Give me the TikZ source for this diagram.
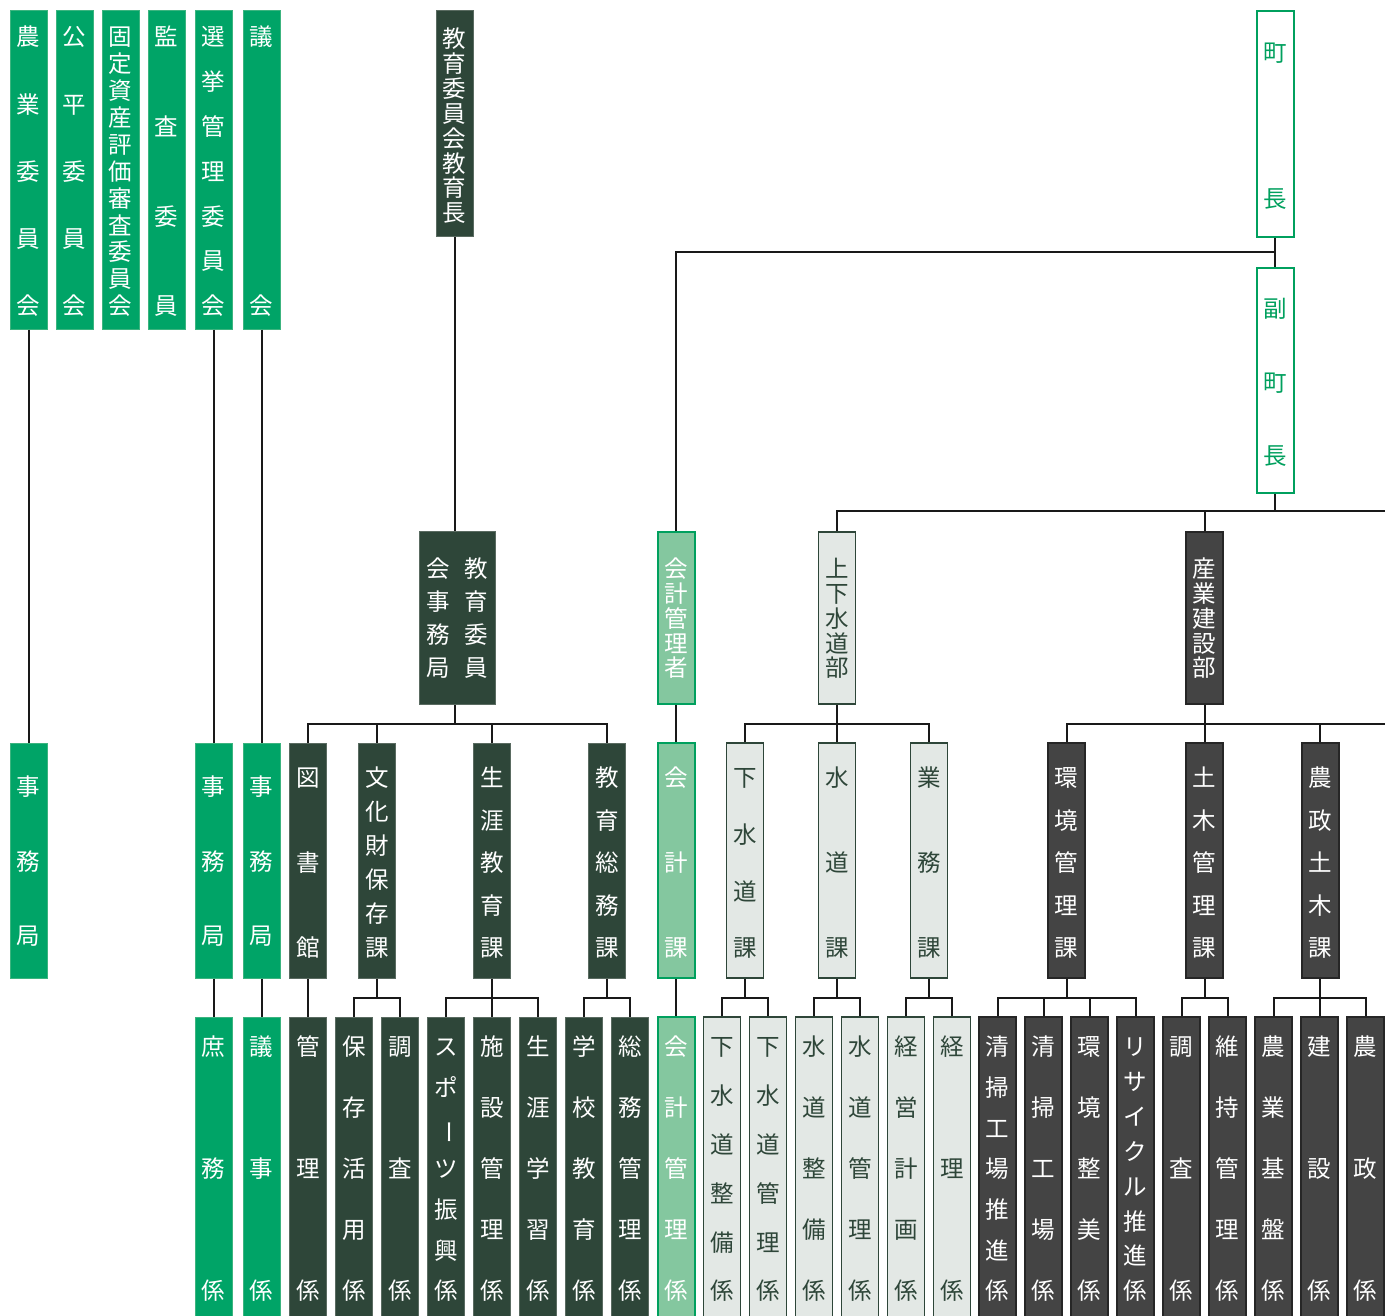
\documentclass[tikz,border=0pt]{standalone}
\usepackage{fontspec}
\usepackage{graphicx}
\newfontfamily\jpf{Noto Sans CJK JP}
\usetikzlibrary{calc}
\definecolor{cG}{HTML}{00A467}
\definecolor{cGb}{HTML}{3CB47F}
\definecolor{cD}{HTML}{2E4639}
\definecolor{cDb}{HTML}{5A6B61}
\definecolor{cK}{HTML}{84C79F}
\definecolor{cG2}{HTML}{00A05E}
\definecolor{cL}{HTML}{E3E8E5}
\definecolor{cS}{HTML}{444444}
\tikzset{
  bx/.style={rectangle,inner sep=0pt,minimum width=37pt},
  bxG/.style={bx,fill=cG,draw=cGb,line width=1pt},
  bxD/.style={bx,fill=cD,draw=cDb,line width=1pt},
  bxK/.style={bx,fill=cK,draw=cG2,line width=2pt},
  bxL/.style={bx,fill=cL,draw=cD,line width=1.5pt},
  bxS/.style={bx,fill=cS,draw=black!85,line width=2pt},
  bxW/.style={bx,fill=white,draw=cG2,line width=2pt},
  ch/.style={inner sep=0pt,yshift=-6pt,font=\jpf\fontsize{23.5pt}{24pt}\selectfont,text height=0.88em,text depth=0.12em},
  chG/.style={ch,text=white},
  chD/.style={ch,text=white},
  chK/.style={ch,text=white},
  chL/.style={ch,text=cD},
  chS/.style={ch,text=white},
  chW/.style={ch,text=cG2},
  conn/.style={draw=black!90,line width=2pt},
}
\newcommand\ob[8]{%
  \node[bx#2,minimum height={(#5)-(#4)}] (#1) at (#3,{((#4)+(#5))/2}) {};
  \foreach \cc [count=\i] in {#8} {\xdef\obn{\i}}
  \foreach \cc [count=\i] in {#8} {\node[ch#2] at (#3,{#6+(\i-1)*(#7-#6)/max(\obn-1,1)}) {\cc};}
}
\newcommand\busto[3]{%
  \coordinate (#1-j) at (#1.south |- 0,#2);
  \draw[conn] (#1.south) -- (#1-j);
  \foreach \k in {#3} {\draw[conn] (\k.north) |- (#1-j);}
}
\begin{document}
\begin{tikzpicture}[x=1pt,y=-1pt]
\useasboundingbox (0,0) rectangle (1385,1316);
\clip (0,0) rectangle (1385,1316);
% ---- row 1
\ob{nogyo}{G}{28.5}{11}{329}{36}{305}{農,業,委,員,会}
\ob{kohei}{G}{74.5}{11}{329}{36}{305}{公,平,委,員,会}
\ob{kotei}{G}{120.5}{11}{329}{36}{305}{固,定,資,産,評,価,審,査,委,員,会}
\ob{kansa}{G}{166.5}{11}{329}{36}{305}{監,査,委,員}
\ob{senkyo}{G}{213.5}{11}{329}{36}{305}{選,挙,管,理,委,員,会}
\ob{gikai}{G}{261.5}{11}{329}{36}{305}{議,会}
\ob{kyoikucho}{D}{454.5}{11}{237}{38}{212}{教,育,委,員,会,教,育,長}
\ob{chocho}{W}{1275}{11}{237}{52}{198}{町,長}
\ob{fuku}{W}{1275}{268}{493}{308}{455}{副,町,長}
% ---- row 2
\node[bxD,minimum width=76pt,minimum height=173pt] (kjimu) at (457.5,618) {};
\foreach \cc [count=\i] in {教,育,委,員} {\node[chD] at (476,{568+(\i-1)*33}) {\cc};}
\foreach \cc [count=\i] in {会,事,務,局} {\node[chD] at (438,{568+(\i-1)*33}) {\cc};}
\ob{kaikeikanri}{K}{676}{532}{704}{568}{667}{会,計,管,理,者}
\ob{jogesui}{L}{837}{532}{704}{568}{667}{上,下,水,道,部}
\ob{sangyo}{S}{1204.5}{532}{704}{568}{667}{産,業,建,設,部}
% ---- row 3
\ob{jimA}{G}{28.5}{743}{978}{786}{935}{事,務,局}
\ob{jimB}{G}{213.5}{743}{978}{786}{935}{事,務,局}
\ob{jimC}{G}{261.5}{743}{978}{786}{935}{事,務,局}
\ob{tosho}{D}{308}{743}{978}{777}{947}{図,書,館}
\ob{bunka}{D}{377}{743}{978}{777}{947}{文,化,財,保,存,課}
\ob{shogai}{D}{492}{743}{978}{777}{947}{生,涯,教,育,課}
\ob{somu}{D}{607}{743}{978}{777}{947}{教,育,総,務,課}
\ob{kaikeika}{K}{676}{743}{978}{777}{947}{会,計,課}
\ob{gesui}{L}{745}{743}{978}{777}{947}{下,水,道,課}
\ob{suido}{L}{837}{743}{978}{777}{947}{水,道,課}
\ob{gyomu}{L}{929}{743}{978}{777}{947}{業,務,課}
\ob{kankyo}{S}{1066.5}{743}{978}{777}{947}{環,境,管,理,課}
\ob{doboku}{S}{1204.5}{743}{978}{777}{947}{土,木,管,理,課}
\ob{nosei}{S}{1320}{743}{978}{777}{947}{農,政,土,木,課}
% ---- row 4
\ob{shomu}{G}{213.5}{1017}{1345}{1046}{1290}{庶,務,係}
\ob{giji}{G}{261.5}{1017}{1345}{1046}{1290}{議,事,係}
\ob{kanri}{D}{308}{1017}{1345}{1046}{1290}{管,理,係}
\ob{hozon}{D}{354}{1017}{1345}{1046}{1290}{保,存,活,用,係}
\ob{chosaA}{D}{400}{1017}{1345}{1046}{1290}{調,査,係}
\ob{sports}{D}{446}{1017}{1345}{1046}{1290}{ス,ポ,{\rotatebox[origin=c]{-90}{ー}},ツ,振,興,係}
\ob{shisetsu}{D}{492}{1017}{1345}{1046}{1290}{施,設,管,理,係}
\ob{gakushu}{D}{538}{1017}{1345}{1046}{1290}{生,涯,学,習,係}
\ob{gakko}{D}{584}{1017}{1345}{1046}{1290}{学,校,教,育,係}
\ob{somukanri}{D}{630}{1017}{1345}{1046}{1290}{総,務,管,理,係}
\ob{kkgakari}{K}{676}{1017}{1345}{1046}{1290}{会,計,管,理,係}
\ob{gesuiseibi}{L}{722}{1017}{1345}{1046}{1290}{下,水,道,整,備,係}
\ob{gesuikanri}{L}{768}{1017}{1345}{1046}{1290}{下,水,道,管,理,係}
\ob{suidoseibi}{L}{814}{1017}{1345}{1046}{1290}{水,道,整,備,係}
\ob{suidokanri}{L}{860}{1017}{1345}{1046}{1290}{水,道,管,理,係}
\ob{keiei}{L}{906}{1017}{1345}{1046}{1290}{経,営,計,画,係}
\ob{keiri}{L}{952}{1017}{1345}{1046}{1290}{経,理,係}
\ob{seisoA}{S}{997.7}{1017}{1345}{1046}{1290}{清,掃,工,場,推,進,係}
\ob{seisoB}{S}{1043.7}{1017}{1345}{1046}{1290}{清,掃,工,場,係}
\ob{seibi}{S}{1089.5}{1017}{1345}{1046}{1290}{環,境,整,美,係}
\ob{recycle}{S}{1135.5}{1017}{1345}{1046}{1290}{リ,サ,イ,ク,ル,推,進,係}
\ob{chosaB}{S}{1181.5}{1017}{1345}{1046}{1290}{調,査,係}
\ob{iji}{S}{1227.5}{1017}{1345}{1046}{1290}{維,持,管,理,係}
\ob{kiban}{S}{1273.5}{1017}{1345}{1046}{1290}{農,業,基,盤,係}
\ob{kensetsu}{S}{1319.5}{1017}{1345}{1046}{1290}{建,設,係}
\ob{nosei2}{S}{1365.5}{1017}{1345}{1046}{1290}{農,政,係}
% ---- connectors
\draw[conn] (nogyo.south) -- (jimA.north);
\draw[conn] (senkyo.south) -- (jimB.north);
\draw[conn] (gikai.south) -- (jimC.north);
\draw[conn] (jimB.south) -- (shomu.north);
\draw[conn] (jimC.south) -- (giji.north);
\draw[conn] (tosho.south) -- (kanri.north);
\draw[conn] (kaikeika.south) -- (kkgakari.north);
\draw[conn] (kaikeikanri.south) -- (kaikeika.north);
% kyoiku
\draw[conn] (kyoikucho.south) -- (kyoikucho.south |- kjimu.north);
\coordinate (kj) at (kyoikucho.south |- 0,724);
\draw[conn] (kyoikucho.south |- kjimu.south) -- (kj);
\foreach \k in {tosho,bunka,shogai,somu} {\draw[conn] (\k.north) |- (kj);}
% chocho
\draw[conn] (chocho.south) -- (fuku.north);
\coordinate (cj) at ($(chocho.south)!0.5!(fuku.north)$);
\draw[conn] (kaikeikanri.north) |- (cj);
\coordinate (fj) at (fuku.south |- 0,511);
\coordinate (rightA) at (1395,511);
\draw[conn] (fuku.south) -- (fj);
\draw[conn] (jogesui.north) |- (fj) -- (rightA);
\draw[conn] (sangyo.north) -- (sangyo.north |- fj);
% departments
\busto{jogesui}{724}{gesui,suido,gyomu}
\busto{sangyo}{724}{kankyo,doboku,nosei}
\coordinate (rightB) at (1395,724);
\draw[conn] (sangyo-j) -- (rightB);
% sections
\busto{bunka}{998}{hozon,chosaA}
\busto{shogai}{998}{sports,shisetsu,gakushu}
\busto{somu}{998}{gakko,somukanri}
\busto{gesui}{998}{gesuiseibi,gesuikanri}
\busto{suido}{998}{suidoseibi,suidokanri}
\busto{gyomu}{998}{keiei,keiri}
\busto{kankyo}{998}{seisoA,seisoB,seibi,recycle}
\busto{doboku}{998}{chosaB,iji}
\busto{nosei}{998}{kiban,kensetsu,nosei2}
\end{tikzpicture}
\end{document}
